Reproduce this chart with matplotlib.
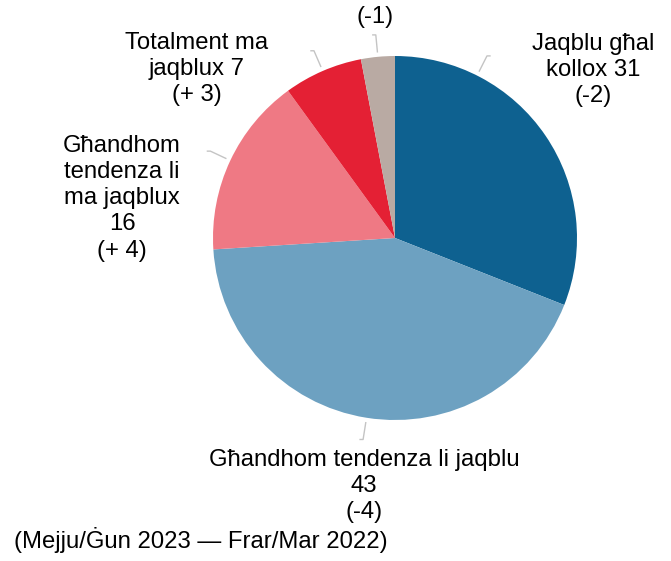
import numpy as np
import matplotlib
matplotlib.use('Agg')
import matplotlib.pyplot as plt

plt.rcParams['font.family'] = ['Liberation Sans', 'DejaVu Sans']

# dejta: perċentwali u bidla mis-sena ta' qabel
kategoriji = ["Jaqblu għal\nkollox", "Għandhom tendenza li jaqblu", "Għandhom\ntendenza li\nma jaqblux",
              "Totalment ma\njaqblux", ""]
valuri = [31, 43, 16, 7, 3]
bidla = ["(-2)", "(-4)", "(+ 4)", "(+ 3)", "(-1)"]
kuluri = ["#0e6190", "#6da1c1", "#ef7984", "#e42034", "#b9aaa3"]

# posizzjoni tat-tikketti (pixel, y minn fuq) u korrezzjoni tal-angolu tal-linja
pos_tikketti = [(593, 70), (364, 486), (122, 198), (197, 69), (375, 17)]
korr_angolu = [-29, 0, 0, 0, 0]

W, H = 671, 561
cx, cy, R = 395, 238, 182

fig = plt.figure(figsize=(W / 100, H / 100), dpi=100)
ax = fig.add_axes([0, 0, 1, 1])

ax.pie(valuri, colors=kuluri, startangle=90, counterclock=False,
       center=(cx, H - cy), radius=R, frame=True)
ax.set_xlim(0, W)
ax.set_ylim(0, H)
ax.set_aspect('equal')
ax.axis('off')

# linji żgħar li jgħaqqdu t-tikketti mal-flieli
tot = sum(valuri)
kum = np.cumsum([0] + valuri)
for i, v in enumerate(valuri):
    nofs = (kum[i] + v / 2) / tot * 360 + korr_angolu[i]  # gradi mill-quċċata, lejn il-lemin
    a = np.deg2rad(nofs)
    x0, y0 = cx + (R + 5) * np.sin(a), cy - (R + 5) * np.cos(a)
    x1, y1 = cx + (R + 22) * np.sin(a), cy - (R + 22) * np.cos(a)
    dx = 3 if np.sin(a) > 0.05 else -3
    ax.plot([x0, x1, x1 + dx], [H - y0, H - y1, H - y1], color="#c4c4c4", lw=1)

for i, v in enumerate(valuri):
    if kategoriji[i]:
        txt = f"{kategoriji[i]} {v}\n{bidla[i]}" if i in (0, 3) else f"{kategoriji[i]}\n{v}\n{bidla[i]}"
    else:
        txt = bidla[i]
    x, y = pos_tikketti[i]
    ax.text(x, H - y, txt, ha='center', va='center', fontsize=17.2, color='black', linespacing=1.25)

ax.text(14, H - 540, "(Mejju/Ġun 2023 — Frar/Mar 2022)", ha='left', va='center', fontsize=17.2)

fig.savefig("out.png", dpi=100)
